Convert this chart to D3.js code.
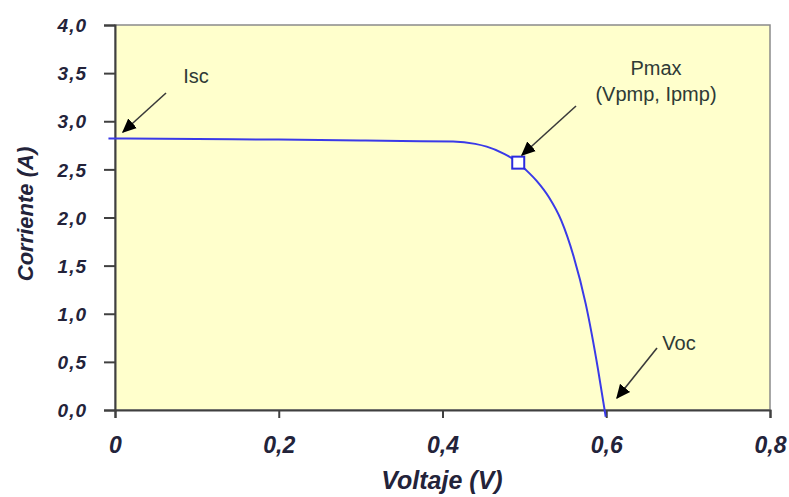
<!DOCTYPE html>
<html><head><meta charset="utf-8">
<script src="https://cdn.jsdelivr.net/npm/d3@7"></script>
<style>body{margin:0;background:#fff}</style></head>
<body><svg id="c" width="789" height="497"></svg>
<script>
const voltage = [-0.008, 0, 0.1, 0.2, 0.3, 0.35, 0.413, 0.44, 0.454, 0.474, 0.4925, 0.5, 0.515, 0.53, 0.545, 0.56, 0.575, 0.59, 0.598, 0.5993];
const current = [2.82, 2.82, 2.815, 2.81, 2.80, 2.795, 2.79, 2.765, 2.736, 2.667, 2.57, 2.51, 2.38, 2.21, 1.97, 1.60, 1.10, 0.42, 0.0, -0.07];
const pmax = {v: 0.4925, i: 2.57};
const yTicks = [0, 0.5, 1, 1.5, 2, 2.5, 3, 3.5, 4];
const xTicks = [0, 0.2, 0.4, 0.6, 0.8];
const annotations = [
  {lines: ["Isc"], tx: 196, ty: 76, from: [166, 93], to: [123, 132]},
  {lines: ["Pmax", "(Vpmp, Ipmp)"], tx: 656, ty: 68, from: [576, 106], to: [522, 155]},
  {lines: ["Voc"], tx: 679, ty: 343, from: [657, 348], to: [617, 398]}
];

const svg = d3.select("#c");
const L = 115, R = 770, T = 25, B = 410;
const x = d3.scaleLinear().domain([0, 0.8]).range([L, R]);
const y = d3.scaleLinear().domain([0, 4]).range([B, T]);
const font = "Liberation Sans, Arial, sans-serif";

svg.append("defs").append("marker").attr("id", "ah").attr("viewBox", "0 0 10 10")
  .attr("refX", 9).attr("refY", 5).attr("markerWidth", 9).attr("markerHeight", 9)
  .attr("markerUnits", "strokeWidth").attr("orient", "auto")
  .append("path").attr("d", "M0,0.5 L10,5 L0,9.5 Z").attr("fill", "#000");

svg.append("rect").attr("x", L).attr("y", T).attr("width", R - L).attr("height", B - T)
  .attr("fill", "#FFFFCC").attr("stroke", "#8a8a8a").attr("stroke-width", 1.5);

const ya = svg.append("g").attr("transform", `translate(${L},0)`)
  .call(d3.axisLeft(y).tickValues(yTicks).tickFormat(d => d3.format(".1f")(d).replace(".", ",")).tickSize(11).tickPadding(17));
const xa = svg.append("g").attr("transform", `translate(0,${B})`)
  .call(d3.axisBottom(x).tickValues(xTicks).tickFormat(d => d === 0 ? "0" : d3.format(".1f")(d).replace(".", ",")).tickSize(8).tickPadding(19));
[ya, xa].forEach(g => {
  g.select(".domain").attr("stroke", "#404040").attr("stroke-width", 2);
  g.selectAll(".tick line").attr("stroke", "#404040").attr("stroke-width", 2);
  g.selectAll("text").attr("font-family", font)
    .attr("font-weight", "bold").attr("font-style", "italic").attr("fill", "#23233a");
});
ya.selectAll("text").attr("font-size", 19).attr("letter-spacing", 1).attr("dy", "0.35em");
xa.selectAll("text").attr("font-size", 23);

const data = voltage.map((v, k) => [v, current[k]]);
svg.append("path").datum(data)
  .attr("d", d3.line().x(d => x(d[0])).y(d => y(d[1])).curve(d3.curveMonotoneX))
  .attr("fill", "none").attr("stroke", "#3a3ae8").attr("stroke-width", 2);

svg.append("rect").attr("x", x(pmax.v) - 6).attr("y", y(pmax.i) - 6).attr("width", 12).attr("height", 12)
  .attr("fill", "#fff").attr("stroke", "#2a2ae0").attr("stroke-width", 2);

annotations.forEach(a => {
  svg.append("line").attr("x1", a.from[0]).attr("y1", a.from[1]).attr("x2", a.to[0]).attr("y2", a.to[1])
    .attr("stroke", "#3a3a3a").attr("stroke-width", 1.6).attr("marker-end", "url(#ah)");
  const t = svg.append("text").attr("x", a.tx).attr("y", a.ty).attr("text-anchor", "middle")
    .attr("font-family", font).attr("font-size", 20).attr("fill", "#2e3a36");
  a.lines.forEach((s, k) => t.append("tspan").attr("x", a.tx).attr("dy", k === 0 ? "0.35em" : "1.3em").text(s));
});

svg.append("text").attr("x", 442).attr("y", 489).attr("text-anchor", "middle")
  .attr("font-family", font).attr("font-size", 25).attr("font-weight", "bold")
  .attr("font-style", "italic").attr("fill", "#23233a").text("Voltaje (V)");
svg.append("text").attr("transform", "translate(33,214) rotate(-90)").attr("text-anchor", "middle")
  .attr("font-family", font).attr("font-size", 22).attr("font-weight", "bold")
  .attr("font-style", "italic").attr("fill", "#23233a").text("Corriente (A)");
</script></body></html>
